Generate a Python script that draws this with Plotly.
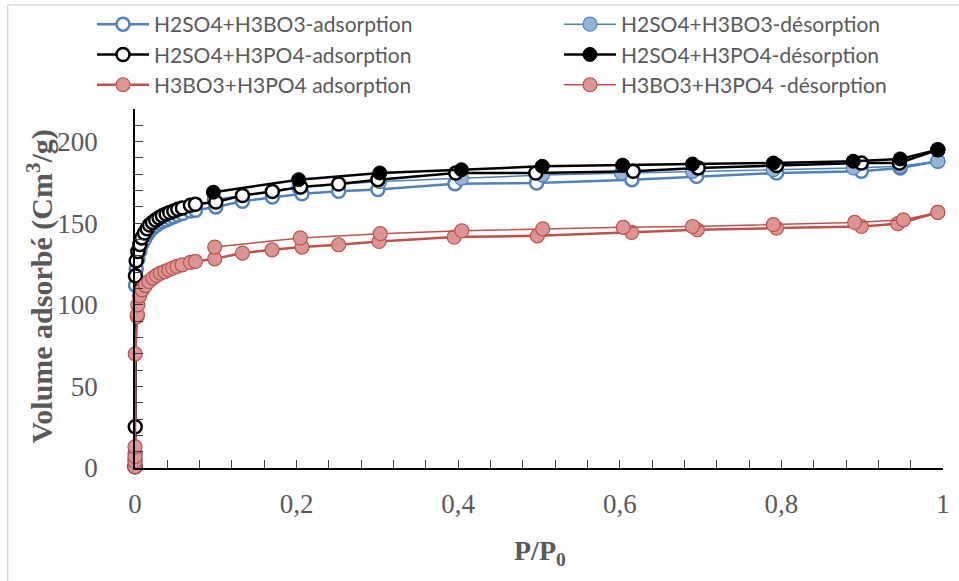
import plotly.graph_objects as go

# ---------------- data ----------------
# H2SO4+H3BO3 adsorption / desorption
bo_ads_x = [0, 0.0001, 0.0002, 0.0006, 0.0015, 0.0035, 0.006, 0.0084, 0.0117, 0.015, 0.018,
            0.0216, 0.0256, 0.0298, 0.0339, 0.0385, 0.043, 0.048, 0.053, 0.0587, 0.0686, 0.0748,
            0.1, 0.133, 0.17, 0.2067, 0.252, 0.3006, 0.396, 0.497, 0.615, 0.695, 0.794, 0.899,
            0.947, 0.9936]
bo_ads_y = [1, 5, 9, 112, 122, 128, 133, 137, 140, 143, 145,
            147, 148.5, 150, 151, 152, 153, 154, 155, 156, 157.5, 158,
            160, 163.5, 166, 168.1, 169.6, 170.6, 174.2, 174.7, 176.7, 178.7, 180.8, 181.8,
            183.9, 188]
bo_des_x = [0.9936, 0.947, 0.889, 0.79, 0.69, 0.602, 0.504, 0.404, 0.303, 0.2025, 0.098]
bo_des_y = [188, 184.9, 183.9, 182.8, 181.8, 180.8, 179.5, 177.5, 175.5, 172, 164.5]

# H2SO4+H3PO4 adsorption / desorption
po_ads_x = [0, 0.0003, 0.0006, 0.0015, 0.0035, 0.006, 0.0084, 0.0117, 0.015, 0.018, 0.0216,
            0.0256, 0.0298, 0.0339, 0.0385, 0.043, 0.048, 0.053, 0.0587, 0.0686, 0.0748,
            0.1, 0.133, 0.17, 0.205, 0.252, 0.3006, 0.397, 0.496, 0.6166, 0.697, 0.794, 0.899,
            0.946, 0.9936]
po_ads_y = [0.8, 25.3, 117.8, 127, 132.7, 137, 141, 144, 146.6, 148.9, 150.5,
            152, 153.4, 154.6, 155.6, 156.6, 157.5, 158.5, 159.3, 161, 161.6,
            163, 167, 169.5, 172.2, 174, 176.7, 180.8, 180.8, 181.8, 183.9, 185.3, 186.9,
            186.9, 195]
po_des_x = [0.9936, 0.947, 0.889, 0.79, 0.69, 0.6035, 0.504, 0.404, 0.303, 0.2025, 0.097]
po_des_y = [195, 189.4, 188, 186.9, 186.3, 185.6, 184.9, 182.8, 180.8, 176.7, 169]

# H3BO3+H3PO4 adsorption / desorption
bp_ads_x = [0, 0, 0, 0, 0.0003, 0.0027, 0.003, 0.0035, 0.0056, 0.0089, 0.013, 0.017, 0.022,
            0.0266, 0.0315, 0.0368, 0.0418, 0.0467, 0.052, 0.0583, 0.0686, 0.0748, 0.0987,
            0.133, 0.1696, 0.2067, 0.252, 0.302, 0.395, 0.498, 0.6146, 0.696, 0.794, 0.899,
            0.944, 0.9936]
bp_ads_y = [0.8, 4, 7, 13, 70, 92.8, 94, 100, 105.5, 109.2, 111.8, 114.3, 116.4,
            118, 119.4, 120.4, 121.5, 122.5, 123.5, 124.5, 126, 126.6, 128.2,
            131.7, 133.7, 135.4, 136.8, 138.8, 141.5, 142.3, 144.4, 146, 147, 148,
            149.7, 156.6]
bp_des_x = [0.9936, 0.951, 0.8906, 0.79, 0.69, 0.6042, 0.5046, 0.4045, 0.3035, 0.2046, 0.0987]
bp_des_y = [156.6, 152.1, 150.5, 149.1, 148, 147.5, 146.6, 145.4, 143.6, 141, 135.4]

names = ["H2SO4+H3BO3-adsorption", "H2SO4+H3BO3-désorption",
         "H2SO4+H3PO4-adsorption", "H2SO4+H3PO4-désorption",
         "H3BO3+H3PO4 adsorption", "H3BO3+H3PO4 -désorption"]

x_ticks = [0, 0.2, 0.4, 0.6, 0.8, 1]
y_ticks = [0, 50, 100, 150, 200]

# ---------------- styling ----------------
BLUE = "#4F81BD"
BLUE_FILL = "#95B3D7"
RED = "#C0504D"
RED_FILL = "#D99694"
GRAY = "#595959"

W, H = 959, 581
L, R, T, B = 134.5, 15.5, 109, 113
PW, PH = W - L - R, H - T - B


def px2paper_x(px):
    return (px - L) / PW


def px2paper_y(py):
    return (H - B - py) / PH


fig = go.Figure()

series = [
    (bo_ads_x, bo_ads_y, names[0], dict(color=BLUE, width=2.5), dict(color="white", size=13, line=dict(color=BLUE, width=2.5)), "legend"),
    (bo_des_x, bo_des_y, names[1], dict(color=BLUE, width=1.5), dict(color=BLUE_FILL, size=14, line=dict(color=BLUE, width=1.2)), "legend2"),
    (po_ads_x, po_ads_y, names[2], dict(color="black", width=2.5), dict(color="white", size=13, line=dict(color="black", width=2.5)), "legend"),
    (po_des_x, po_des_y, names[3], dict(color="black", width=2.5), dict(color="black", size=14, line=dict(color="black", width=1)), "legend2"),
    (bp_ads_x, bp_ads_y, names[4], dict(color=RED, width=2.5), dict(color=RED_FILL, size=14, line=dict(color=RED, width=1.2)), "legend"),
    (bp_des_x, bp_des_y, names[5], dict(color=RED, width=1.5), dict(color=RED_FILL, size=14, line=dict(color=RED, width=1.2)), "legend2"),
]

for xs, ys, nm, ln, mk, lg in series:
    fig.add_trace(go.Scatter(x=xs, y=ys, name=nm, mode="lines+markers", line=ln, marker=mk,
                             cliponaxis=False, legend=lg))

tickfont = dict(family="Liberation Serif, Times New Roman, serif", size=27, color=GRAY)
legfont = dict(family="Lato, Open Sans, sans-serif", size=21, color=GRAY)

fig.update_layout(
    width=W, height=H,
    margin=dict(l=L, r=R, t=T, b=B, pad=0, autoexpand=False),
    paper_bgcolor="white", plot_bgcolor="white",
    separators=", ",
    showlegend=True,
    legend=dict(xref="container", yref="container", x=92 / W, y=1 - 4 / H,
                xanchor="left", yanchor="top",
                orientation="v", font=legfont, bgcolor="rgba(0,0,0,0)", itemwidth=52,
                tracegroupgap=0),
    legend2=dict(xref="container", yref="container", x=559 / W, y=1 - 4 / H,
                 xanchor="left", yanchor="top",
                 orientation="v", font=legfont, bgcolor="rgba(0,0,0,0)", itemwidth=52,
                 tracegroupgap=0),
    xaxis=dict(range=[0, 1], tickvals=x_ticks, ticks="inside", ticklen=8, tickwidth=1,
               tickcolor="#404040", showline=True, linecolor="black", linewidth=1.5,
               showgrid=False, zeroline=False, tickfont=tickfont, ticklabelstandoff=11,
               minor=dict(dtick=0.04, tick0=0, ticks="inside", ticklen=8, tickcolor="#404040",
                          showgrid=False)),
    yaxis=dict(range=[0, 220], tickvals=y_ticks, ticks="inside", ticklen=8, tickwidth=1,
               tickcolor="#404040", showline=True, linecolor="black", linewidth=1.5,
               showgrid=False, zeroline=False, tickfont=tickfont, ticklabelstandoff=30,
               minor=dict(dtick=10, tick0=0, ticks="inside", ticklen=8, tickcolor="#404040",
                          showgrid=False)),
    annotations=[
        dict(text="<b>Volume adsorbé (Cm<sup>3</sup>/g)</b>", textangle=-90,
             x=px2paper_x(39), y=px2paper_y(287), xref="paper", yref="paper",
             xanchor="center", yanchor="middle", showarrow=False,
             font=dict(family="Liberation Serif, Times New Roman, serif", size=30, color=GRAY)),
        dict(text="<b>P/P<sub>0</sub></b>",
             x=px2paper_x(540), y=px2paper_y(552), xref="paper", yref="paper",
             xanchor="center", yanchor="middle", showarrow=False,
             font=dict(family="Liberation Serif, Times New Roman, serif", size=28, color=GRAY)),
    ],
    shapes=[
        dict(type="line", xref="paper", yref="paper", x0=px2paper_x(7), x1=px2paper_x(7),
             y0=px2paper_y(5), y1=px2paper_y(590), line=dict(color="#D9D9D9", width=1.5)),
        dict(type="line", xref="paper", yref="paper", x0=px2paper_x(7), x1=px2paper_x(970),
             y0=px2paper_y(5), y1=px2paper_y(5), line=dict(color="#D9D9D9", width=1.5)),
    ],
)

fig.write_html("out.html")
